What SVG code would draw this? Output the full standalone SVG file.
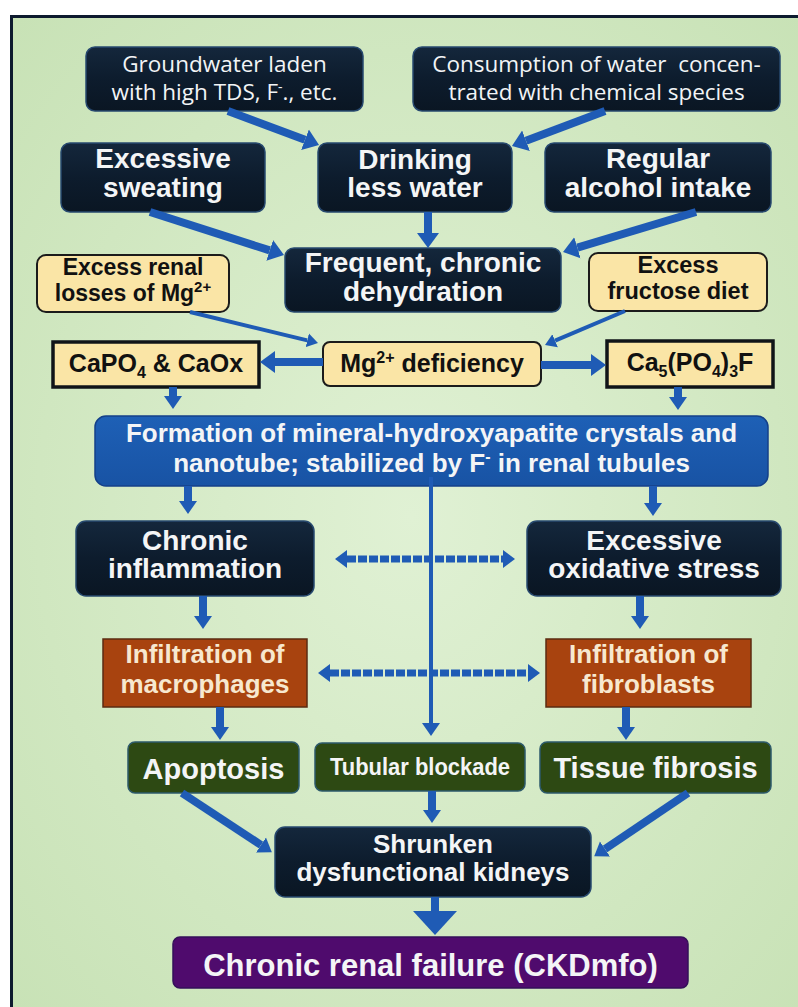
<svg xmlns="http://www.w3.org/2000/svg" width="798" height="1007" viewBox="0 0 798 1007">
<defs>
<radialGradient id="bg" cx="0.5" cy="0.5" r="0.7">
<stop offset="0" stop-color="#e0f1d4"/>
<stop offset="1" stop-color="#c8e2b6"/>
</radialGradient>
<linearGradient id="dk" x1="0" y1="0" x2="0" y2="1">
<stop offset="0" stop-color="#14273c"/>
<stop offset="0.5" stop-color="#0d1c2d"/>
<stop offset="1" stop-color="#0a1623"/>
</linearGradient>
<linearGradient id="bl" x1="0" y1="0" x2="0" y2="1">
<stop offset="0" stop-color="#1e60b6"/>
<stop offset="1" stop-color="#1853a4"/>
</linearGradient>
<marker id="ah" markerUnits="userSpaceOnUse" markerWidth="16" markerHeight="24" viewBox="0 -12 16 24" refX="0" refY="0" orient="auto">
<path d="M0,-11 L15,0 L0,11 z" fill="#1f5bb5"/>
</marker>
<marker id="ahs" markerUnits="userSpaceOnUse" markerWidth="12" markerHeight="16" viewBox="0 -8 12 16" refX="0" refY="0" orient="auto">
<path d="M0,-7 L11,0 L0,7 z" fill="#1f5bb5"/>
</marker>
<marker id="ahm" markerUnits="userSpaceOnUse" markerWidth="14" markerHeight="20" viewBox="0 -10 14 20" refX="0" refY="0" orient="auto">
<path d="M0,-9 L13,0 L0,9 z" fill="#1f5bb5"/>
</marker>
<marker id="ahd" markerUnits="userSpaceOnUse" markerWidth="14" markerHeight="20" viewBox="0 -10 14 20" refX="0" refY="0" orient="auto-start-reverse">
<path d="M0,-9 L12,0 L0,9 z" fill="#1f5bb5"/>
</marker>
<marker id="ahb" markerUnits="userSpaceOnUse" markerWidth="26" markerHeight="48" viewBox="0 -24 26 48" refX="0" refY="0" orient="auto">
<path d="M0,-22 L24,0 L0,22 z" fill="#1f5bb5"/>
</marker>
</defs>
<style>
.dark{fill:url(#dk);stroke:#27496f;stroke-width:1.5}
.yel{fill:#fae5a6;stroke:#1b1b1b;stroke-width:2}
.yelsq{fill:#fae5a6;stroke:#101418;stroke-width:3.5}
.org{fill:#a8430f;stroke:#5b2b12;stroke-width:1.5}
.grn{fill:#2d4913;stroke:#2d5a6b;stroke-width:1.5}
.pur{fill:#4f0b6d;stroke:#35105a;stroke-width:1.5}
.blu{fill:url(#bl);stroke:#144089;stroke-width:1.5}
text{text-anchor:middle}
.os{font-family:"Open Sans","Noto Sans",sans-serif;font-size:22.5px;fill:#f2f4f6}
.bw{font-family:"Liberation Sans",Arial,sans-serif;font-weight:bold;fill:#f4f5f6}
.bk{font-family:"Liberation Sans",Arial,sans-serif;font-weight:bold;fill:#111}
.ot{font-family:"Liberation Sans",Arial,sans-serif;font-weight:bold;fill:#f7e8cf;font-size:26px}
.ar{stroke:#1f5bb5;fill:none;stroke-width:8}
.arT{stroke:#1f5bb5;fill:none;stroke-width:4}
.arD{stroke:#1f5bb5;fill:none;stroke-width:7;stroke-dasharray:9 2}
</style>
<rect x="0" y="0" width="798" height="1007" fill="#ffffff"/>
<rect x="11.5" y="16.5" width="800" height="1000" fill="url(#bg)" stroke="#0d1a2e" stroke-width="3"/>

<g id="n-groundwater">
<rect class="dark" x="86" y="47" width="277" height="64" rx="9"/>
<text class="os" x="224.5" y="72">Groundwater laden</text>
<text class="os" x="224.5" y="100">with high TDS, F<tspan font-size="14" dy="-8">-</tspan><tspan dy="8">., etc.</tspan></text>
</g>
<g id="n-consumption">
<rect class="dark" x="413" y="47" width="367" height="64" rx="9"/>
<text class="os" x="596.5" y="72" font-size="21.5" xml:space="preserve">Consumption of water  concen-</text>
<text class="os" x="596.5" y="100" font-size="21.5">trated with chemical species</text>
</g>
<g id="n-sweating">
<rect class="dark" x="61" y="143" width="204" height="69" rx="9"/>
<text class="bw" x="163" y="168" font-size="28">Excessive</text>
<text class="bw" x="163" y="197" font-size="28">sweating</text>
</g>
<g id="n-drinking">
<rect class="dark" x="318" y="143" width="194" height="69" rx="9"/>
<text class="bw" x="415" y="169" font-size="28">Drinking</text>
<text class="bw" x="415" y="197" font-size="28">less water</text>
</g>
<g id="n-alcohol">
<rect class="dark" x="545" y="143" width="226" height="69" rx="9"/>
<text class="bw" x="658" y="168" font-size="28">Regular</text>
<text class="bw" x="658" y="197" font-size="28">alcohol intake</text>
</g>
<g id="n-dehydration">
<rect class="dark" x="285" y="248" width="276" height="64" rx="9"/>
<text class="bw" x="423" y="272" font-size="28">Frequent, chronic</text>
<text class="bw" x="423" y="301" font-size="28">dehydration</text>
</g>
<g id="n-renal-losses">
<rect class="yel" x="37" y="255" width="192" height="57" rx="9"/>
<text class="bk" x="133" y="275" font-size="23">Excess renal</text>
<text class="bk" x="133" y="301" font-size="23">losses of Mg<tspan font-size="15" dy="-9">2+</tspan></text>
</g>
<g id="n-fructose">
<rect class="yel" x="589" y="253" width="178" height="58" rx="9"/>
<text class="bk" x="678" y="273" font-size="23.5">Excess</text>
<text class="bk" x="678" y="299" font-size="23.5">fructose diet</text>
</g>
<g id="n-capo4">
<rect class="yelsq" x="53" y="342" width="206" height="45"/>
<text class="bk" x="156" y="372" font-size="25">CaPO<tspan font-size="16" dy="6">4</tspan><tspan dy="-6"> &amp; CaOx</tspan></text>
</g>
<g id="n-mg">
<rect class="yel" x="323" y="342" width="218" height="44" rx="7"/>
<text class="bk" x="432" y="372" font-size="25">Mg<tspan font-size="16" dy="-9">2+</tspan><tspan dy="9"> deficiency</tspan></text>
</g>
<g id="n-ca5">
<rect class="yelsq" x="607" y="341" width="166" height="46"/>
<text class="bk" x="690" y="371" font-size="25">Ca<tspan font-size="16" dy="6">5</tspan><tspan dy="-6">(PO</tspan><tspan font-size="16" dy="6">4</tspan><tspan dy="-6">)</tspan><tspan font-size="16" dy="6">3</tspan><tspan dy="-6">F</tspan></text>
</g>
<g id="n-formation">
<rect class="blu" x="95" y="416" width="673" height="70" rx="11"/>
<text class="bw" x="431.5" y="442" font-size="26" fill="#eef3fa">Formation of mineral-hydroxyapatite crystals and</text>
<text class="bw" x="431.5" y="472" font-size="26" fill="#eef3fa">nanotube; stabilized by F<tspan font-size="16" dy="-10">-</tspan><tspan dy="10"> in renal tubules</tspan></text>
</g>
<g id="n-inflammation">
<rect class="dark" x="76" y="521" width="238" height="75" rx="10"/>
<text class="bw" x="195" y="550" font-size="28">Chronic</text>
<text class="bw" x="195" y="578" font-size="28">inflammation</text>
</g>
<g id="n-oxidative">
<rect class="dark" x="527" y="521" width="254" height="75" rx="10"/>
<text class="bw" x="654" y="550" font-size="28">Excessive</text>
<text class="bw" x="654" y="578" font-size="28">oxidative stress</text>
</g>
<g id="n-macrophages">
<rect class="org" x="103" y="639" width="204" height="68"/>
<text class="ot" x="205" y="663">Infiltration of</text>
<text class="ot" x="205" y="693">macrophages</text>
</g>
<g id="n-fibroblasts">
<rect class="org" x="546" y="639" width="205" height="68"/>
<text class="ot" x="648.5" y="663">Infiltration of</text>
<text class="ot" x="648.5" y="693">fibroblasts</text>
</g>
<g id="n-apoptosis">
<rect class="grn" x="128" y="742" width="171" height="51" rx="7"/>
<text class="bw" x="213.5" y="779" font-size="29" fill="#f1f3e8">Apoptosis</text>
</g>
<g id="n-tubular">
<rect class="grn" x="315" y="743" width="210" height="48" rx="7"/>
<text class="bw" x="420" y="775" font-size="23" fill="#f1f3e8" textLength="180" lengthAdjust="spacingAndGlyphs">Tubular blockade</text>
</g>
<g id="n-tissue">
<rect class="grn" x="540" y="742" width="231" height="51" rx="7"/>
<text class="bw" x="655.5" y="778" font-size="29" fill="#f1f3e8">Tissue fibrosis</text>
</g>
<g id="n-shrunken">
<rect class="dark" x="275" y="827" width="316" height="70" rx="10"/>
<text class="bw" x="433" y="853" font-size="26">Shrunken</text>
<text class="bw" x="433" y="881" font-size="26">dysfunctional kidneys</text>
</g>
<g id="n-ckd">
<rect class="pur" x="173" y="937" width="515" height="51" rx="7"/>
<text class="bw" x="430.5" y="976" font-size="31" fill="#efe4f5">Chronic renal failure (CKDmfo)</text>
</g>

<g id="connectors">
<line class="ar" x1="228" y1="111" x2="305" y2="139.8" marker-end="url(#ah)"/>
<line class="ar" x1="605" y1="111" x2="526" y2="140.7" marker-end="url(#ah)"/>
<line class="ar" x1="150" y1="212" x2="269.7" y2="250.4" marker-end="url(#ah)"/>
<line class="ar" x1="428" y1="212" x2="428" y2="233" marker-end="url(#ah)"/>
<line class="ar" x1="696" y1="212" x2="577.4" y2="247.7" marker-end="url(#ah)"/>
<line class="arT" x1="190" y1="312" x2="307.3" y2="340.4" marker-end="url(#ahs)"/>
<line class="arT" x1="625" y1="311" x2="555.1" y2="340.7" marker-end="url(#ahs)"/>
<line class="ar" x1="323" y1="362" x2="275" y2="362" marker-end="url(#ah)"/>
<line class="ar" x1="541" y1="365" x2="591" y2="365" marker-end="url(#ah)"/>
<line class="ar" x1="173" y1="387" x2="173" y2="396" marker-end="url(#ahm)"/>
<line class="ar" x1="678" y1="387" x2="678" y2="397" marker-end="url(#ahm)"/>
<line class="ar" x1="188" y1="486" x2="188" y2="501" marker-end="url(#ahm)"/>
<line class="ar" x1="653" y1="486" x2="653" y2="503" marker-end="url(#ahm)"/>
<line class="arT" x1="431" y1="477" x2="431" y2="723" stroke-width="5" marker-end="url(#ahm)"/>
<line class="arD" x1="347" y1="559" x2="503" y2="559" marker-start="url(#ahd)" marker-end="url(#ahd)"/>
<line class="arD" x1="330" y1="673" x2="528" y2="673" marker-start="url(#ahd)" marker-end="url(#ahd)"/>
<line class="ar" x1="203" y1="596" x2="203" y2="616" marker-end="url(#ahm)"/>
<line class="ar" x1="640" y1="596" x2="640" y2="616" marker-end="url(#ahm)"/>
<line class="ar" x1="220" y1="707" x2="220" y2="727" marker-end="url(#ahm)"/>
<line class="ar" x1="626" y1="707" x2="626" y2="727" marker-end="url(#ahm)"/>
<line class="ar" x1="432" y1="791" x2="432" y2="810" marker-end="url(#ahm)"/>
<line class="ar" x1="182" y1="793" x2="261" y2="845" marker-end="url(#ahm)"/>
<line class="ar" x1="688" y1="793" x2="605" y2="849" marker-end="url(#ahm)"/>
<line class="ar" x1="435" y1="897" x2="435" y2="911" stroke-width="22" marker-end="url(#ahb)"/>
</g>
</svg>
